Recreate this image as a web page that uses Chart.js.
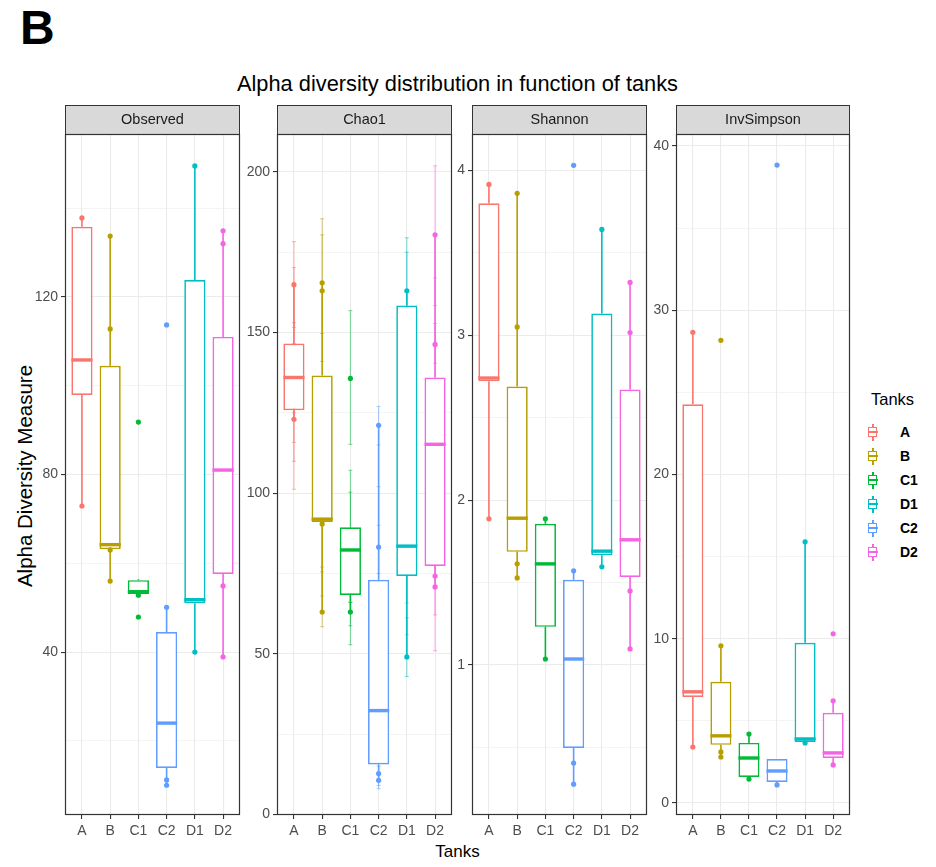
<!DOCTYPE html>
<html>
<head>
<meta charset="utf-8">
<script src="https://cdn.jsdelivr.net/npm/chart.js@4.4.0/dist/chart.umd.min.js"></script>
<style>
  body { margin: 0; background: #fff; font-family: "Liberation Sans", Arial, sans-serif; }
  #page { position: relative; width: 936px; height: 867px; overflow: hidden; background: #fff; }
  canvas { position: absolute; top: 105px; }
  .txt { position: absolute; white-space: nowrap; line-height: 1; color: #000; }
  .key { position: absolute; left: 868px; width: 10px; height: 17px; }
  .key div { position: absolute; }
  .key-label { position: absolute; left: 900px; font-weight: bold; font-size: 14px; line-height: 1; }
</style>
</head>
<body>
<div id="page">
  <div class="txt" style="left:20px; top:4px; font-size:48px; font-weight:bold;">B</div>
  <div class="txt" style="left:0; width:915px; top:73px; font-size:21.8px; text-align:center;">Alpha diversity distribution in function of tanks</div>
  <div class="txt" style="left:0; width:915px; top:843px; font-size:17px; text-align:center;">Tanks</div>
  <div class="txt" style="left:-125px; width:300px; top:466px; height:20px; line-height:20px; font-size:20.5px; text-align:center; transform:rotate(-90deg);">Alpha Diversity Measure</div>
  <div class="txt" style="left:871px; top:391px; font-size:16.5px;">Tanks</div>
  <div id="legend"></div>
  <canvas id="observed-canvas" width="220" height="735" style="left:25px"></canvas>
  <canvas id="chao1-canvas" width="220" height="735" style="left:237px"></canvas>
  <canvas id="shannon-canvas" width="220" height="735" style="left:432px"></canvas>
  <canvas id="invsimpson-canvas" width="219" height="735" style="left:636px"></canvas>
</div>
<script>
const tanks = ["A", "B", "C1", "C2", "D1", "D2"];
const tank_colors = ["#F8766D", "#B79F00", "#00BA38", "#619CFF", "#00BFC4", "#F564E3"];
const legend_tanks = ["A", "B", "C1", "D1", "C2", "D2"];

// each box: [lower whisker, Q1, median, Q3, upper whisker], in the order of tanks
const observed_boxes = [
  [72.9, 97.9, 105.8, 135.8, 137.8],
  [56, 63.2, 64.2, 104.5, 133.7],
  [52.8, 53.1, 53.6, 56.2, 56.4],
  [10.0, 13.9, 24.0, 44.5, 50.1],
  [40, 51.0, 51.8, 123.8, 149.5],
  [38.9, 57.6, 81, 111, 134.9],
];
const observed_points = [
  [137.8, 72.9],
  [133.7, 112.8, 63, 56],
  [91.8, 52.8, 47.9],
  [113.7, 50.1, 11.2, 10.0],
  [149.5, 40],
  [134.9, 132, 54.9, 38.9],
];

const chao1_boxes = [
  [123, 125.8, 136, 146.6, 164.9],
  [63, 91.0, 91.9, 136.6, 165.5],
  [63, 68.3, 82.3, 89.4, 89.4],
  [10.6, 15.5, 32.3, 73, 121.1],
  [49, 74.2, 83.5, 158.4, 163],
  [70.8, 77.3, 115.2, 136, 180.4],
];
const chao1_points = [
  [164.9, 123],
  [165.5, 163, 90.4, 63],
  [135.7, 63],
  [121.1, 83.2, 12.7, 10.6],
  [163, 49],
  [180.4, 146.3, 74.2, 70.8],
];
// standard error intervals of the Chao1 estimates
const chao1_errors = [
  [[151.6, 178.3], [125, 170.2], [115.8, 153.1], [109.9, 146.6], [101.2, 141]],
  [[149.7, 185.4], [141, 180.4], [75.5, 105], [68, 112], [58.4, 77]],
  [[115.2, 156.8], [72, 107.1], [66, 100.3], [52.8, 73], [58.7, 66]],
  [[115, 127], [75, 102], [60, 90], [8, 18], [9, 15]],
  [[150, 179.5], [140, 175], [65.8, 100], [55.9, 90], [42.9, 61.2]],
  [[158.4, 201.9], [130, 167], [140.4, 152.8], [62.1, 95], [50.9, 90]],
];

const shannon_boxes = [
  [1.886, 2.72, 2.74, 3.80, 3.914],
  [1.528, 1.686, 1.89, 2.688, 3.86],
  [1.036, 1.231, 1.613, 1.856, 1.886],
  [0.277, 0.496, 1.036, 1.516, 1.571],
  [1.595, 1.665, 1.69, 3.131, 3.641],
  [1.097, 1.534, 1.759, 2.67, 3.32],
];
const shannon_points = [
  [3.914, 1.886],
  [3.86, 3.05, 1.613, 1.528],
  [1.886, 1.036],
  [4.03, 1.571, 0.405, 0.277],
  [3.641, 1.595],
  [3.32, 3.016, 1.449, 1.097],
];

const invsimpson_boxes = [
  [3.41, 6.46, 6.77, 24.27, 28.66],
  [2.8, 3.54, 4.09, 7.38, 9.57],
  [1.46, 1.59, 2.74, 3.66, 4.2],
  [1.1, 1.28, 1.95, 2.68, 2.68],
  [3.66, 3.72, 3.9, 9.76, 15.9],
  [2.32, 2.74, 3.05, 5.49, 6.22],
];
const invsimpson_points = [
  [28.66, 3.41],
  [28.17, 9.57, 3.11, 2.8],
  [4.2, 1.46],
  [38.84, 1.1],
  [15.9, 3.66],
  [10.3, 6.22, 2.32],
];

const observed_range = [3.3, 156.7];
const observed_grid = [20, 40, 60, 80, 100, 120, 140];
const observed_labels = [40, 80, 120];
const chao1_range = [-0.2, 211.8];
const chao1_grid = [0, 25, 50, 75, 100, 125, 150, 175, 200];
const chao1_labels = [0, 50, 100, 150, 200];
const shannon_range = [0.09, 4.22];
const shannon_grid = [0.5, 1, 1.5, 2, 2.5, 3, 3.5, 4];
const shannon_labels = [1, 2, 3, 4];
const invsimpson_range = [-0.73, 40.73];
const invsimpson_grid = [0, 5, 10, 15, 20, 25, 30, 35, 40];
const invsimpson_labels = [0, 10, 20, 30, 40];

const BOX_HALF = 0.375;
const tick_font = { family: '"Liberation Sans", Arial, sans-serif', size: 14 };

// strip on top of the panel and the panel border
const panelFrame = {
  id: "panelFrame",
  beforeDraw(chart, args, opts) {
    const { ctx, chartArea: { left, right, top } } = chart;
    ctx.save();
    ctx.fillStyle = "#D9D9D9";
    ctx.fillRect(left, top - 29, right - left, 29);
    ctx.strokeStyle = "#333333";
    ctx.lineWidth = 1;
    ctx.strokeRect(left + 0.5, top - 28.5, right - left - 1, 29);
    ctx.fillStyle = "#1A1A1A";
    ctx.font = '14.5px "Liberation Sans", Arial, sans-serif';
    ctx.textAlign = "center";
    ctx.textBaseline = "middle";
    ctx.fillText(opts.text, (left + right) / 2, top - 14);
    ctx.restore();
  },
  afterDraw(chart) {
    const { ctx, chartArea: { left, right, top, bottom } } = chart;
    ctx.save();
    ctx.strokeStyle = "#333333";
    ctx.lineWidth = 1.2;
    ctx.strokeRect(left + 0.5, top + 0.5, right - left - 1, bottom - top - 1);
    ctx.restore();
  },
};

const buildDatasets = (boxes, points, errors) => {
  const datasets = [];
  datasets.push({
    type: "scatter",
    data: points.flatMap((vals, i) => vals.map((y) => ({ x: i, y: y }))),
    pointBackgroundColor: points.flatMap((vals, i) => vals.map(() => tank_colors[i])),
    pointBorderWidth: 0,
    pointRadius: 2.6,
    order: 0,
  });
  boxes.forEach(([low, q1, med, q3, high], i) => {
    datasets.push({
      type: "line",
      data: [{ x: i - BOX_HALF, y: med }, { x: i + BOX_HALF, y: med }],
      borderColor: tank_colors[i],
      borderWidth: 3.4,
      borderCapStyle: "butt",
      pointRadius: 0,
      order: 1,
    });
    datasets.push({
      type: "line",
      data: [
        { x: i, y: high }, { x: i, y: q3 }, { x: i, y: null },
        { x: i, y: q1 }, { x: i, y: low },
      ],
      borderColor: tank_colors[i],
      borderWidth: 1.6,
      pointRadius: 0,
      order: 1,
    });
  });
  datasets.push({
    type: "bar",
    data: boxes.map((b, i) => ({ x: i, y: [b[1], b[3]] })),
    backgroundColor: "#ffffff",
    borderColor: tank_colors,
    borderWidth: 1.7,
    borderSkipped: false,
    barPercentage: 0.75,
    categoryPercentage: 1,
    order: 2,
  });
  if (errors) {
    errors.forEach((intervals, i) => {
      const faded = tank_colors[i] + "88";
      datasets.push({
        type: "line",
        data: intervals.flatMap(([lo, hi]) => [{ x: i, y: lo }, { x: i, y: hi }, { x: i, y: null }]),
        borderColor: faded,
        borderWidth: 1,
        pointStyle: "line",
        pointRadius: 2,
        pointBorderColor: faded,
        pointBorderWidth: 1,
        order: 3,
      });
    });
  }
  return datasets;
};

const makePanel = (canvas_id, title, boxes, points, errors, range, grid_ticks, label_ticks) => {
  const isLabel = (v) => label_ticks.includes(v);
  return new Chart(document.getElementById(canvas_id), {
    type: "bar",
    data: { datasets: buildDatasets(boxes, points, errors) },
    options: {
      responsive: false,
      maintainAspectRatio: false,
      animation: false,
      events: [],
      layout: { padding: { top: 29, right: 1, left: 0, bottom: 0 } },
      plugins: {
        legend: { display: false },
        tooltip: { enabled: false },
        panelFrame: { text: title },
      },
      scales: {
        x: {
          type: "linear",
          min: -0.6,
          max: 5.6,
          offset: false,
          afterBuildTicks: (scale) => {
            scale.ticks = tanks.map((t, i) => ({ value: i }));
          },
          afterFit: (scale) => {
            scale.height = 25;
          },
          border: { display: false },
          grid: {
            offset: false,
            color: "#EBEBEB",
            lineWidth: 1.1,
            tickLength: 4,
            tickColor: "#333333",
            tickWidth: 1.1,
          },
          ticks: {
            autoSkip: false,
            maxRotation: 0,
            padding: 4,
            color: "#4D4D4D",
            font: tick_font,
            callback: (v) => tanks[v],
          },
        },
        y: {
          type: "linear",
          min: range[0],
          max: range[1],
          afterBuildTicks: (scale) => {
            scale.ticks = grid_ticks.map((v) => ({ value: v }));
          },
          afterFit: (scale) => {
            scale.width = 40;
          },
          border: { display: false },
          grid: {
            color: "#EBEBEB",
            lineWidth: (c) => (c.tick && isLabel(c.tick.value) ? 1.1 : 0.55),
            tickLength: 4,
            tickColor: (c) => (c.tick && isLabel(c.tick.value) ? "#333333" : "rgba(0,0,0,0)"),
            tickWidth: 1.1,
          },
          ticks: {
            padding: 3,
            color: "#4D4D4D",
            font: tick_font,
            callback: (v) => (isLabel(v) ? String(v) : ""),
          },
        },
      },
    },
    plugins: [panelFrame],
  });
};

// the x axis keeps some padding on the right, so grow the canvas until the plot is the wanted width
const fitPanel = (chart, plot_width) => {
  for (let k = 0; k < 3; k++) {
    const { left, right } = chart.chartArea;
    const diff = Math.round(plot_width - (right - left));
    if (diff === 0) return;
    chart.resize(chart.width + diff, chart.height);
  }
};

const buildLegend = () => {
  const legend = document.getElementById("legend");
  legend_tanks.forEach((tank, k) => {
    const color = tank_colors[tanks.indexOf(tank)];
    const row_y = 432 + k * 24;
    const key = document.createElement("div");
    key.className = "key";
    key.style.top = row_y - 8.5 + "px";
    key.innerHTML =
      `<div style="left:4.25px;top:0;width:1.5px;height:17px;background:${color}"></div>` +
      `<div style="left:0;top:3px;width:7px;height:8px;border:1.5px solid ${color};background:#fff"></div>` +
      `<div style="left:0;top:7.75px;width:10px;height:1.5px;background:${color}"></div>`;
    legend.appendChild(key);
    const label = document.createElement("div");
    label.className = "key-label";
    label.style.top = row_y - 7 + "px";
    label.textContent = tank;
    legend.appendChild(label);
  });
};

buildLegend();
const observed_chart = makePanel("observed-canvas", "Observed", observed_boxes, observed_points, null,
  observed_range, observed_grid, observed_labels);
const chao1_chart = makePanel("chao1-canvas", "Chao1", chao1_boxes, chao1_points, chao1_errors,
  chao1_range, chao1_grid, chao1_labels);
const shannon_chart = makePanel("shannon-canvas", "Shannon", shannon_boxes, shannon_points, null,
  shannon_range, shannon_grid, shannon_labels);
const invsimpson_chart = makePanel("invsimpson-canvas", "InvSimpson", invsimpson_boxes, invsimpson_points, null,
  invsimpson_range, invsimpson_grid, invsimpson_labels);
fitPanel(observed_chart, 175);
fitPanel(chao1_chart, 175);
fitPanel(shannon_chart, 175);
fitPanel(invsimpson_chart, 174);
</script>
</body>
</html>
